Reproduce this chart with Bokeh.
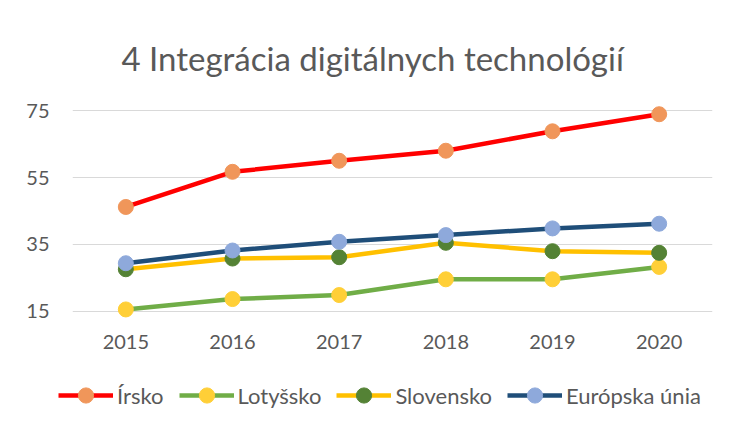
from bokeh.plotting import figure
from bokeh.layouts import column
from bokeh.models import Legend, LegendItem, FixedTicker, Range1d
from bokeh.embed import file_html
from bokeh.resources import INLINE

years = [2015, 2016, 2017, 2018, 2019, 2020]
irsko = [46.2, 56.7, 60.0, 63.0, 68.8, 73.9]
lotyssko = [15.6, 18.7, 19.9, 24.6, 24.6, 28.3]
slovensko = [27.6, 30.8, 31.2, 35.5, 33.0, 32.5]
eu = [29.4, 33.2, 35.8, 37.8, 39.8, 41.2]
y_ticks = [15, 35, 55, 75]
series_names = ["Írsko", "Lotyšsko", "Slovensko", "Európska únia"]
title_text = "4 Integrácia digitálnych technológií"

FONT = "Lato"
TXT = "#595959"

p = figure(width=718, height=365, x_range=Range1d(2014.5, 2020.5), y_range=Range1d(12, 78),
           output_backend="svg", toolbar_location=None,
           min_border_left=72, min_border_right=6, min_border_top=100, min_border_bottom=44)
p.frame_align = False
p.outline_line_color = None
p.xgrid.grid_line_color = None
p.ygrid.grid_line_color = "#d9d9d9"
p.ygrid.grid_line_width = 1

p.title.text = title_text
p.title.align = "left"
p.title.offset = 49
p.title.standoff = 46
p.title.text_font = FONT
p.title.text_font_size = "33px"
p.title.text_font_style = "normal"
p.title.text_color = TXT

for ax in (p.xaxis[0], p.yaxis[0]):
    ax.axis_line_color = None
    ax.major_tick_line_color = None
    ax.minor_tick_line_color = None
    ax.major_label_text_font = FONT
    ax.major_label_text_color = TXT
    ax.major_label_text_font_size = "20px"
p.xaxis.ticker = FixedTicker(ticks=years)
p.yaxis.ticker = FixedTicker(ticks=y_ticks)
p.yaxis.major_label_standoff = 17
p.xaxis.major_label_standoff = 7

data = [irsko, lotyssko, slovensko, eu]
line_colors = ["#FF0000", "#70AD47", "#FFC000", "#1F4E79"]
marker_colors = ["#F0965A", "#FFCF37", "#548235", "#8EA9DB"]

for vals, lc, mc in zip(data, line_colors, marker_colors):
    p.line(years, vals, line_color=lc, line_width=4.5)
    p.scatter(years, vals, size=15, fill_color=mc, line_color=mc)

# legend strip below the chart (its sample glyphs sit outside its visible range)
lg = figure(width=718, height=44, x_range=Range1d(0, 1), y_range=Range1d(0, 1),
            output_backend="svg", toolbar_location=None,
            x_axis_location=None, y_axis_location=None,
            min_border_left=0, min_border_right=0, min_border_top=0, min_border_bottom=0)
lg.frame_align = False
lg.outline_line_color = None
lg.grid.visible = False
items = []
for name, lc, mc in zip(series_names, line_colors, marker_colors):
    r1 = lg.line([-10, -9], [-10, -10], line_color=lc, line_width=4.5)
    r2 = lg.scatter([-10], [-10], size=15, fill_color=mc, line_color=mc)
    items.append(LegendItem(label=name, renderers=[r1, r2]))
legend = Legend(items=items, orientation="horizontal", location=(58, -5),
                glyph_width=55, glyph_height=38, label_standoff=4, spacing=15,
                padding=0, margin=0, border_line_color=None, background_fill_alpha=0,
                label_text_font=FONT, label_text_font_size="22px", label_text_color=TXT)
lg.add_layout(legend, "center")

layout = column(p, lg, spacing=0)
open("out.html", "w").write(file_html(layout, INLINE))
